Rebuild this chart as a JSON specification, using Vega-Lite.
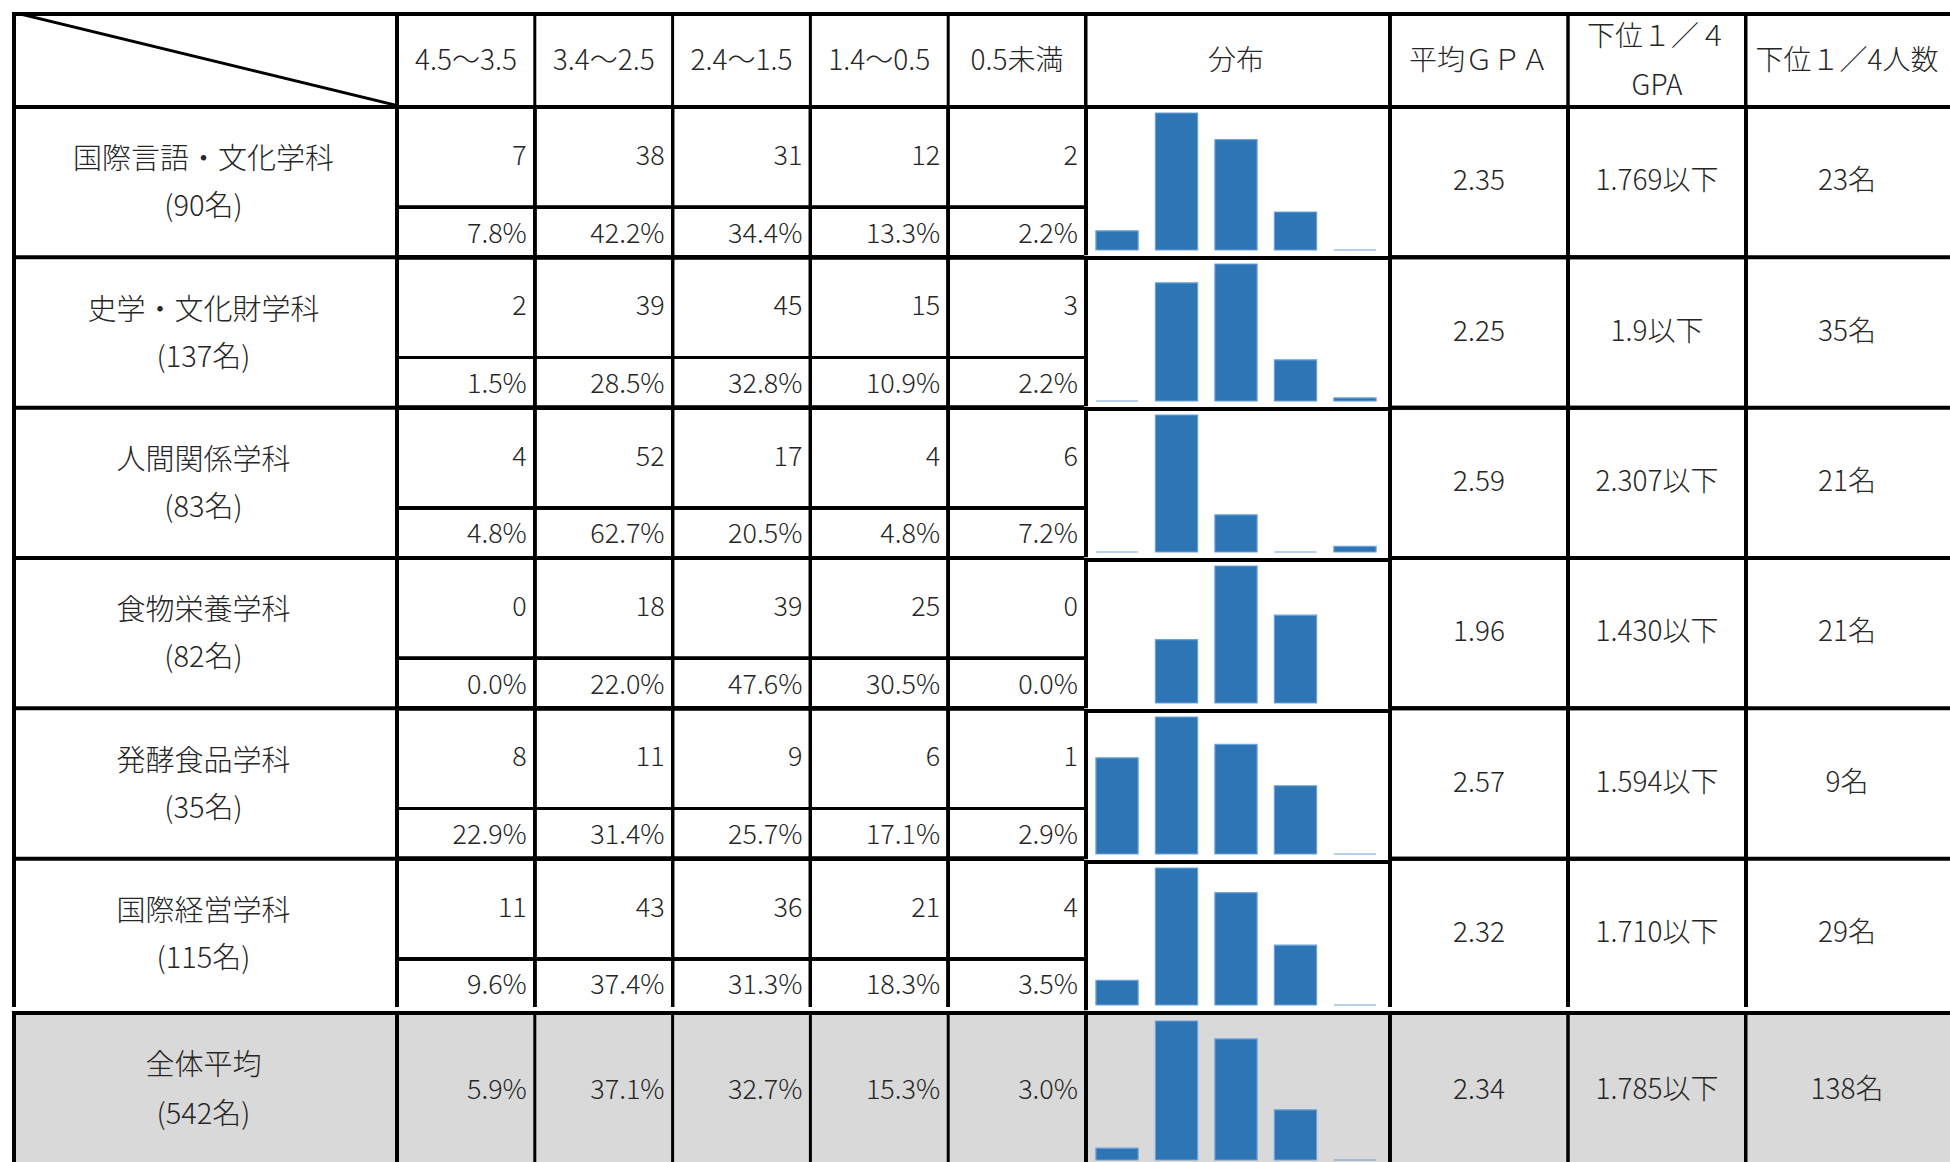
{
 "$schema": "https://vega.github.io/schema/vega-lite/v6.json",
 "background": "white",
 "padding": {"left": 12, "top": 12, "right": 0, "bottom": 0},
 "config": {
  "view": {"stroke": null},
  "axis": {"disable": true},
  "text": {"font": "Noto Sans CJK JP", "fontSize": 27, "fontWeight": 300, "fill": "#262626", "baseline": "middle"},
  "rule": {"stroke": "#000000"}
 },
 "datasets": {
  "cells": [
   {"dept": "国際言語・文化学科", "cat": "4.5～3.5", "n": 7, "p": 0.078},
   {"dept": "国際言語・文化学科", "cat": "3.4～2.5", "n": 38, "p": 0.422},
   {"dept": "国際言語・文化学科", "cat": "2.4～1.5", "n": 31, "p": 0.344},
   {"dept": "国際言語・文化学科", "cat": "1.4～0.5", "n": 12, "p": 0.133},
   {"dept": "国際言語・文化学科", "cat": "0.5未満", "n": 2, "p": 0.022},
   {"dept": "史学・文化財学科", "cat": "4.5～3.5", "n": 2, "p": 0.015},
   {"dept": "史学・文化財学科", "cat": "3.4～2.5", "n": 39, "p": 0.285},
   {"dept": "史学・文化財学科", "cat": "2.4～1.5", "n": 45, "p": 0.328},
   {"dept": "史学・文化財学科", "cat": "1.4～0.5", "n": 15, "p": 0.109},
   {"dept": "史学・文化財学科", "cat": "0.5未満", "n": 3, "p": 0.022},
   {"dept": "人間関係学科", "cat": "4.5～3.5", "n": 4, "p": 0.048},
   {"dept": "人間関係学科", "cat": "3.4～2.5", "n": 52, "p": 0.627},
   {"dept": "人間関係学科", "cat": "2.4～1.5", "n": 17, "p": 0.205},
   {"dept": "人間関係学科", "cat": "1.4～0.5", "n": 4, "p": 0.048},
   {"dept": "人間関係学科", "cat": "0.5未満", "n": 6, "p": 0.072},
   {"dept": "食物栄養学科", "cat": "4.5～3.5", "n": 0, "p": 0.0},
   {"dept": "食物栄養学科", "cat": "3.4～2.5", "n": 18, "p": 0.22},
   {"dept": "食物栄養学科", "cat": "2.4～1.5", "n": 39, "p": 0.476},
   {"dept": "食物栄養学科", "cat": "1.4～0.5", "n": 25, "p": 0.305},
   {"dept": "食物栄養学科", "cat": "0.5未満", "n": 0, "p": 0.0},
   {"dept": "発酵食品学科", "cat": "4.5～3.5", "n": 8, "p": 0.229},
   {"dept": "発酵食品学科", "cat": "3.4～2.5", "n": 11, "p": 0.314},
   {"dept": "発酵食品学科", "cat": "2.4～1.5", "n": 9, "p": 0.257},
   {"dept": "発酵食品学科", "cat": "1.4～0.5", "n": 6, "p": 0.171},
   {"dept": "発酵食品学科", "cat": "0.5未満", "n": 1, "p": 0.029},
   {"dept": "国際経営学科", "cat": "4.5～3.5", "n": 11, "p": 0.096},
   {"dept": "国際経営学科", "cat": "3.4～2.5", "n": 43, "p": 0.374},
   {"dept": "国際経営学科", "cat": "2.4～1.5", "n": 36, "p": 0.313},
   {"dept": "国際経営学科", "cat": "1.4～0.5", "n": 21, "p": 0.183},
   {"dept": "国際経営学科", "cat": "0.5未満", "n": 4, "p": 0.035},
   {"dept": "全体平均", "cat": "4.5～3.5", "p": 0.059},
   {"dept": "全体平均", "cat": "3.4～2.5", "p": 0.371},
   {"dept": "全体平均", "cat": "2.4～1.5", "p": 0.327},
   {"dept": "全体平均", "cat": "1.4～0.5", "p": 0.153},
   {"dept": "全体平均", "cat": "0.5未満", "p": 0.03}
  ],
  "summary": [
   {"dept": "国際言語・文化学科", "name": "国際言語・文化学科\n(90名)", "gpa": 2.35, "q": "1.769以下", "qn": "23名"},
   {"dept": "史学・文化財学科", "name": "史学・文化財学科\n(137名)", "gpa": 2.25, "q": "1.9以下", "qn": "35名"},
   {"dept": "人間関係学科", "name": "人間関係学科\n(83名)", "gpa": 2.59, "q": "2.307以下", "qn": "21名"},
   {"dept": "食物栄養学科", "name": "食物栄養学科\n(82名)", "gpa": 1.96, "q": "1.430以下", "qn": "21名"},
   {"dept": "発酵食品学科", "name": "発酵食品学科\n(35名)", "gpa": 2.57, "q": "1.594以下", "qn": "9名"},
   {"dept": "国際経営学科", "name": "国際経営学科\n(115名)", "gpa": 2.32, "q": "1.710以下", "qn": "29名"},
   {"dept": "全体平均", "name": "全体平均\n(542名)", "gpa": 2.34, "q": "1.785以下", "qn": "138名"}
  ]
 },
 "spacing": 0,
 "vconcat": [
  {
   "spacing": 0,
   "hconcat": [
    {
     "width": 383, "height": 93,
     "data": {"values": [{"h": "corner"}]},
     "layer": [
      {"mark": {"type": "rule", "strokeWidth": 3, "clip": true}, "encoding": {"x": {"value": 0}, "y": {"value": 0}, "x2": {"value": "width"}, "y2": {"value": "height"}}},
      {"mark": {"type": "rule", "strokeWidth": 8, "clip": true}, "encoding": {"x": {"value": 0}, "x2": {"value": "width"}, "y": {"value": 0}}},
      {"mark": {"type": "rule", "strokeWidth": 8, "clip": true}, "encoding": {"x": {"value": 0}, "y": {"value": 0}, "y2": {"value": "height"}}}
     ]
    },
    {
     "width": 689, "height": 93,
     "data": {"name": "cells"},
     "transform": [{"filter": "datum.dept === '国際言語・文化学科'"}],
     "layer": [
      {"mark": {"type": "rule", "strokeWidth": 8, "clip": true}, "encoding": {"x": {"value": 0}, "x2": {"value": "width"}, "y": {"value": 0}}},
      {"mark": {"type": "rule", "strokeWidth": 3, "clip": true}, "encoding": {"x": {"field": "cat", "type": "nominal", "sort": ["4.5～3.5", "3.4～2.5", "2.4～1.5", "1.4～0.5", "0.5未満"], "scale": {"type": "band", "range": [2, 691], "paddingInner": 0, "paddingOuter": 0}, "bandPosition": 0}, "y": {"value": 0}, "y2": {"value": "height"}}},
      {"mark": {"type": "rule", "strokeWidth": 8, "clip": true}, "encoding": {"x": {"value": 0}, "y": {"value": 0}, "y2": {"value": "height"}}},
      {"mark": {"type": "text", "dy": 3, "fontSize": 28}, "encoding": {"x": {"field": "cat", "type": "nominal", "sort": ["4.5～3.5", "3.4～2.5", "2.4～1.5", "1.4～0.5", "0.5未満"], "scale": {"type": "band", "range": [2, 691], "paddingInner": 0, "paddingOuter": 0}}, "text": {"field": "cat", "type": "nominal"}}}
     ]
    },
    {
     "width": 304, "height": 93,
     "data": {"values": [{"h": "分布"}]},
     "layer": [
      {"mark": {"type": "rule", "strokeWidth": 8, "clip": true}, "encoding": {"x": {"value": 0}, "x2": {"value": "width"}, "y": {"value": 0}}},
      {"mark": {"type": "rule", "strokeWidth": 7, "clip": true}, "encoding": {"x": {"value": 0}, "y": {"value": 0}, "y2": {"value": "height"}}},
      {"mark": {"type": "text", "dy": 3, "fontSize": 28}, "encoding": {"text": {"field": "h", "type": "nominal"}}}
     ]
    },
    {
     "width": 356, "height": 93,
     "data": {"values": [{"col": "gpa", "h": "平均ＧＰＡ"}, {"col": "q", "h": "下位１／４\nGPA"}]},
     "layer": [
      {"mark": {"type": "rule", "strokeWidth": 8, "clip": true}, "encoding": {"x": {"value": 0}, "x2": {"value": "width"}, "y": {"value": 0}}},
      {"mark": {"type": "rule", "strokeWidth": 3.5, "clip": true}, "encoding": {"x": {"field": "col", "type": "nominal", "sort": ["gpa", "q"], "scale": {"type": "band", "range": [2, 358], "paddingInner": 0, "paddingOuter": 0}, "bandPosition": 0}, "y": {"value": 0}, "y2": {"value": "height"}}},
      {"mark": {"type": "rule", "strokeWidth": 7, "clip": true}, "encoding": {"x": {"value": 0}, "y": {"value": 0}, "y2": {"value": "height"}}},
      {"mark": {"type": "text", "dy": 3, "fontSize": 28}, "encoding": {"x": {"field": "col", "type": "nominal", "sort": ["gpa", "q"], "scale": {"type": "band", "range": [2, 358], "paddingInner": 0, "paddingOuter": 0}}, "text": {"field": "h", "type": "nominal"}}, "transform": [{"filter": "datum.col === 'gpa'"}]},
      {"mark": {"type": "text", "dy": -20.5, "fontSize": 28, "lineBreak": "\n", "lineHeight": 49, "clip": true}, "encoding": {"x": {"field": "col", "type": "nominal", "sort": ["gpa", "q"], "scale": {"type": "band", "range": [2, 358], "paddingInner": 0, "paddingOuter": 0}}, "text": {"field": "h", "type": "nominal"}}, "transform": [{"filter": "datum.col === 'q'"}]}
     ]
    },
    {
     "width": 206, "height": 93,
     "data": {"values": [{"h": "下位１／4人数"}]},
     "layer": [
      {"mark": {"type": "rule", "strokeWidth": 8, "clip": true}, "encoding": {"x": {"value": 0}, "x2": {"value": "width"}, "y": {"value": 0}}},
      {"mark": {"type": "rule", "strokeWidth": 7, "clip": true}, "encoding": {"x": {"value": 0}, "y": {"value": 0}, "y2": {"value": "height"}}},
      {"mark": {"type": "text", "dy": 3, "fontSize": 28}, "encoding": {"text": {"field": "h", "type": "nominal"}}}
     ]
    }
   ]
  },
  {
   "spacing": 0,
   "hconcat": [
    {
     "width": 383, "height": 902,
     "data": {"name": "summary"},
     "transform": [{"filter": "datum.dept !== '全体平均'"}],
     "layer": [
      {"mark": {"type": "rule", "strokeWidth": 4, "clip": true}, "encoding": {"x": {"value": 0}, "x2": {"value": "width"}, "y": {"field": "dept", "type": "nominal", "sort": ["国際言語・文化学科", "史学・文化財学科", "人間関係学科", "食物栄養学科", "発酵食品学科", "国際経営学科"], "scale": {"type": "band", "range": [2, 904], "paddingInner": 0, "paddingOuter": 0}, "bandPosition": 0}}},
      {"mark": {"type": "rule", "strokeWidth": 8, "clip": true}, "encoding": {"x": {"value": 0}, "y": {"value": 0}, "y2": {"value": "height"}}},
      {"mark": {"type": "text", "dy": -22, "fontSize": 29, "lineBreak": "\n", "lineHeight": 47}, "encoding": {"y": {"field": "dept", "type": "nominal", "sort": ["国際言語・文化学科", "史学・文化財学科", "人間関係学科", "食物栄養学科", "発酵食品学科", "国際経営学科"], "scale": {"type": "band", "range": [2, 904], "paddingInner": 0, "paddingOuter": 0}}, "text": {"field": "name", "type": "nominal"}}}
     ]
    },
    {
     "width": 689, "height": 902,
     "data": {"name": "cells"},
     "transform": [{"filter": "datum.dept !== '全体平均'"}],
     "layer": [
      {"mark": {"type": "rule", "strokeWidth": 4, "clip": true}, "encoding": {"x": {"value": 0}, "x2": {"value": "width"}, "y": {"field": "dept", "type": "nominal", "sort": ["国際言語・文化学科", "史学・文化財学科", "人間関係学科", "食物栄養学科", "発酵食品学科", "国際経営学科"], "scale": {"type": "band", "range": [2, 904], "paddingInner": 0, "paddingOuter": 0}, "bandPosition": 0}}},
      {"mark": {"type": "rule", "strokeWidth": 3, "clip": true}, "encoding": {"x": {"value": 0}, "x2": {"value": "width"}, "y": {"field": "dept", "type": "nominal", "sort": ["国際言語・文化学科", "史学・文化財学科", "人間関係学科", "食物栄養学科", "発酵食品学科", "国際経営学科"], "scale": {"type": "band", "range": [2, 904], "paddingInner": 0, "paddingOuter": 0}, "bandPosition": 0.667}}},
      {"mark": {"type": "rule", "strokeWidth": 3, "clip": true}, "encoding": {"x": {"field": "cat", "type": "nominal", "sort": ["4.5～3.5", "3.4～2.5", "2.4～1.5", "1.4～0.5", "0.5未満"], "scale": {"type": "band", "range": [2, 691], "paddingInner": 0, "paddingOuter": 0}, "bandPosition": 0}, "y": {"value": 0}, "y2": {"value": "height"}}},
      {"mark": {"type": "rule", "strokeWidth": 8, "clip": true}, "encoding": {"x": {"value": 0}, "y": {"value": 0}, "y2": {"value": "height"}}},
      {"mark": {"type": "text", "align": "right", "dx": -8, "dy": 0}, "encoding": {"x": {"field": "cat", "type": "nominal", "sort": ["4.5～3.5", "3.4～2.5", "2.4～1.5", "1.4～0.5", "0.5未満"], "scale": {"type": "band", "range": [2, 691], "paddingInner": 0, "paddingOuter": 0}, "bandPosition": 1}, "y": {"field": "dept", "type": "nominal", "sort": ["国際言語・文化学科", "史学・文化財学科", "人間関係学科", "食物栄養学科", "発酵食品学科", "国際経営学科"], "scale": {"type": "band", "range": [2, 904], "paddingInner": 0, "paddingOuter": 0}, "bandPosition": 0.333}, "text": {"field": "n", "type": "quantitative"}}},
      {"mark": {"type": "text", "align": "right", "dx": -8, "dy": 0}, "encoding": {"x": {"field": "cat", "type": "nominal", "sort": ["4.5～3.5", "3.4～2.5", "2.4～1.5", "1.4～0.5", "0.5未満"], "scale": {"type": "band", "range": [2, 691], "paddingInner": 0, "paddingOuter": 0}, "bandPosition": 1}, "y": {"field": "dept", "type": "nominal", "sort": ["国際言語・文化学科", "史学・文化財学科", "人間関係学科", "食物栄養学科", "発酵食品学科", "国際経営学科"], "scale": {"type": "band", "range": [2, 904], "paddingInner": 0, "paddingOuter": 0}, "bandPosition": 0.85}, "text": {"field": "p", "type": "quantitative", "format": ".1%"}}}
     ]
    },
    {
     "data": {"name": "cells"},
     "transform": [
      {"filter": "datum.dept !== '全体平均'"},
      {"joinaggregate": [{"op": "min", "field": "p", "as": "pmin"}], "groupby": ["dept"]}
     ],
     "facet": {"row": {"field": "dept", "type": "nominal", "sort": ["国際言語・文化学科", "史学・文化財学科", "人間関係学科", "食物栄養学科", "発酵食品学科", "国際経営学科"], "header": null}},
     "spacing": 0,
     "resolve": {"scale": {"y": "independent"}},
     "spec": {
      "width": 304, "height": 150.333,
      "layer": [
       {"mark": {"type": "bar", "fill": "#2E75B6", "stroke": "#6FA3D8", "strokeWidth": 1.2},
        "encoding": {
         "x": {"field": "cat", "type": "nominal", "sort": ["4.5～3.5", "3.4～2.5", "2.4～1.5", "1.4～0.5", "0.5未満"], "scale": {"type": "band", "paddingInner": 0.29, "paddingOuter": 0.2}},
         "y": {"field": "p", "type": "quantitative", "scale": {"zero": false, "nice": false, "range": [145, 8]}},
         "y2": {"field": "pmin"},
         "strokeOpacity": {"condition": {"test": "datum.p > 0", "value": 1}, "value": 0}
        }},
       {"mark": {"type": "rule", "strokeWidth": 8, "clip": true}, "encoding": {"x": {"value": 0}, "x2": {"value": "width"}, "y": {"value": 0}}},
       {"mark": {"type": "rule", "strokeWidth": 7, "clip": true}, "encoding": {"x": {"value": 0}, "y": {"value": 0}, "y2": {"value": "height"}}}
      ]
     }
    },
    {
     "width": 356, "height": 902,
     "data": {"name": "summary"},
     "transform": [{"filter": "datum.dept !== '全体平均'"}, {"fold": ["gpa", "q"], "as": ["col", "val"]}],
     "layer": [
      {"mark": {"type": "rule", "strokeWidth": 4, "clip": true}, "encoding": {"x": {"value": 0}, "x2": {"value": "width"}, "y": {"field": "dept", "type": "nominal", "sort": ["国際言語・文化学科", "史学・文化財学科", "人間関係学科", "食物栄養学科", "発酵食品学科", "国際経営学科"], "scale": {"type": "band", "range": [2, 904], "paddingInner": 0, "paddingOuter": 0}, "bandPosition": 0}}},
      {"mark": {"type": "rule", "strokeWidth": 3.5, "clip": true}, "encoding": {"x": {"field": "col", "type": "nominal", "sort": ["gpa", "q"], "scale": {"type": "band", "range": [2, 358], "paddingInner": 0, "paddingOuter": 0}, "bandPosition": 0}, "y": {"value": 0}, "y2": {"value": "height"}}},
      {"mark": {"type": "rule", "strokeWidth": 7, "clip": true}, "encoding": {"x": {"value": 0}, "y": {"value": 0}, "y2": {"value": "height"}}},
      {"mark": {"type": "text", "fontSize": 28}, "encoding": {"x": {"field": "col", "type": "nominal", "sort": ["gpa", "q"], "scale": {"type": "band", "range": [2, 358], "paddingInner": 0, "paddingOuter": 0}}, "y": {"field": "dept", "type": "nominal", "sort": ["国際言語・文化学科", "史学・文化財学科", "人間関係学科", "食物栄養学科", "発酵食品学科", "国際経営学科"], "scale": {"type": "band", "range": [2, 904], "paddingInner": 0, "paddingOuter": 0}}, "text": {"field": "val", "type": "nominal"}}}
     ]
    },
    {
     "width": 206, "height": 902,
     "data": {"name": "summary"},
     "transform": [{"filter": "datum.dept !== '全体平均'"}],
     "layer": [
      {"mark": {"type": "rule", "strokeWidth": 4, "clip": true}, "encoding": {"x": {"value": 0}, "x2": {"value": "width"}, "y": {"field": "dept", "type": "nominal", "sort": ["国際言語・文化学科", "史学・文化財学科", "人間関係学科", "食物栄養学科", "発酵食品学科", "国際経営学科"], "scale": {"type": "band", "range": [2, 904], "paddingInner": 0, "paddingOuter": 0}, "bandPosition": 0}}},
      {"mark": {"type": "rule", "strokeWidth": 7, "clip": true}, "encoding": {"x": {"value": 0}, "y": {"value": 0}, "y2": {"value": "height"}}},
      {"mark": {"type": "text", "fontSize": 28}, "encoding": {"y": {"field": "dept", "type": "nominal", "sort": ["国際言語・文化学科", "史学・文化財学科", "人間関係学科", "食物栄養学科", "発酵食品学科", "国際経営学科"], "scale": {"type": "band", "range": [2, 904], "paddingInner": 0, "paddingOuter": 0}}, "text": {"field": "qn", "type": "nominal"}}}
     ]
    }
   ]
  },
  {
   "spacing": 0,
   "hconcat": [
    {
     "width": 383, "height": 156,
     "data": {"name": "summary"},
     "transform": [{"filter": "datum.dept === '全体平均'"}],
     "layer": [
      {"mark": {"type": "rect", "fill": "#D9D9D9"}, "encoding": {"x": {"value": 0}, "x2": {"value": "width"}, "y": {"value": 0}, "y2": {"value": "height"}}},
      {"mark": {"type": "rule", "strokeWidth": 8, "clip": true}, "encoding": {"x": {"value": 0}, "x2": {"value": "width"}, "y": {"value": 0}}},
      {"mark": {"type": "rule", "strokeWidth": 8, "clip": true}, "encoding": {"x": {"value": 0}, "y": {"value": 0}, "y2": {"value": "height"}}},
      {"mark": {"type": "text", "dy": -23, "fontSize": 29, "lineBreak": "\n", "lineHeight": 49}, "encoding": {"text": {"field": "name", "type": "nominal"}}}
     ]
    },
    {
     "width": 689, "height": 156,
     "data": {"name": "cells"},
     "transform": [{"filter": "datum.dept === '全体平均'"}],
     "layer": [
      {"mark": {"type": "rect", "fill": "#D9D9D9"}, "encoding": {"x": {"value": 0}, "x2": {"value": "width"}, "y": {"value": 0}, "y2": {"value": "height"}}},
      {"mark": {"type": "rule", "strokeWidth": 8, "clip": true}, "encoding": {"x": {"value": 0}, "x2": {"value": "width"}, "y": {"value": 0}}},
      {"mark": {"type": "rule", "strokeWidth": 3, "clip": true}, "encoding": {"x": {"field": "cat", "type": "nominal", "sort": ["4.5～3.5", "3.4～2.5", "2.4～1.5", "1.4～0.5", "0.5未満"], "scale": {"type": "band", "range": [2, 691], "paddingInner": 0, "paddingOuter": 0}, "bandPosition": 0}, "y": {"value": 0}, "y2": {"value": "height"}}},
      {"mark": {"type": "rule", "strokeWidth": 8, "clip": true}, "encoding": {"x": {"value": 0}, "y": {"value": 0}, "y2": {"value": "height"}}},
      {"mark": {"type": "text", "align": "right", "dx": -8, "dy": 2}, "encoding": {"x": {"field": "cat", "type": "nominal", "sort": ["4.5～3.5", "3.4～2.5", "2.4～1.5", "1.4～0.5", "0.5未満"], "scale": {"type": "band", "range": [2, 691], "paddingInner": 0, "paddingOuter": 0}, "bandPosition": 1}, "text": {"field": "p", "type": "quantitative", "format": ".1%"}}}
     ]
    },
    {
     "width": 304, "height": 156,
     "data": {"name": "cells"},
     "transform": [
      {"filter": "datum.dept === '全体平均'"},
      {"joinaggregate": [{"op": "min", "field": "p", "as": "pmin"}], "groupby": ["dept"]}
     ],
     "layer": [
      {"mark": {"type": "rect", "fill": "#D9D9D9"}, "encoding": {"x": {"value": 0}, "x2": {"value": "width"}, "y": {"value": 0}, "y2": {"value": "height"}}},
      {"mark": {"type": "bar", "fill": "#2E75B6", "stroke": "#6FA3D8", "strokeWidth": 1.2},
       "encoding": {
        "x": {"field": "cat", "type": "nominal", "sort": ["4.5～3.5", "3.4～2.5", "2.4～1.5", "1.4～0.5", "0.5未満"], "scale": {"type": "band", "paddingInner": 0.29, "paddingOuter": 0.2}},
        "y": {"field": "p", "type": "quantitative", "scale": {"zero": false, "nice": false, "range": [149, 10]}},
        "y2": {"field": "pmin"},
        "strokeOpacity": {"condition": {"test": "datum.p > 0", "value": 1}, "value": 0}
       }},
      {"mark": {"type": "rule", "strokeWidth": 8, "clip": true}, "encoding": {"x": {"value": 0}, "x2": {"value": "width"}, "y": {"value": 0}}},
      {"mark": {"type": "rule", "strokeWidth": 7, "clip": true}, "encoding": {"x": {"value": 0}, "y": {"value": 0}, "y2": {"value": "height"}}}
     ]
    },
    {
     "width": 356, "height": 156,
     "data": {"name": "summary"},
     "transform": [{"filter": "datum.dept === '全体平均'"}, {"fold": ["gpa", "q"], "as": ["col", "val"]}],
     "layer": [
      {"mark": {"type": "rect", "fill": "#D9D9D9"}, "encoding": {"x": {"value": 0}, "x2": {"value": "width"}, "y": {"value": 0}, "y2": {"value": "height"}}},
      {"mark": {"type": "rule", "strokeWidth": 8, "clip": true}, "encoding": {"x": {"value": 0}, "x2": {"value": "width"}, "y": {"value": 0}}},
      {"mark": {"type": "rule", "strokeWidth": 3.5, "clip": true}, "encoding": {"x": {"field": "col", "type": "nominal", "sort": ["gpa", "q"], "scale": {"type": "band", "range": [2, 358], "paddingInner": 0, "paddingOuter": 0}, "bandPosition": 0}, "y": {"value": 0}, "y2": {"value": "height"}}},
      {"mark": {"type": "rule", "strokeWidth": 7, "clip": true}, "encoding": {"x": {"value": 0}, "y": {"value": 0}, "y2": {"value": "height"}}},
      {"mark": {"type": "text", "dy": 2, "fontSize": 28}, "encoding": {"x": {"field": "col", "type": "nominal", "sort": ["gpa", "q"], "scale": {"type": "band", "range": [2, 358], "paddingInner": 0, "paddingOuter": 0}}, "text": {"field": "val", "type": "nominal"}}}
     ]
    },
    {
     "width": 206, "height": 156,
     "data": {"name": "summary"},
     "transform": [{"filter": "datum.dept === '全体平均'"}],
     "layer": [
      {"mark": {"type": "rect", "fill": "#D9D9D9"}, "encoding": {"x": {"value": 0}, "x2": {"value": "width"}, "y": {"value": 0}, "y2": {"value": "height"}}},
      {"mark": {"type": "rule", "strokeWidth": 8, "clip": true}, "encoding": {"x": {"value": 0}, "x2": {"value": "width"}, "y": {"value": 0}}},
      {"mark": {"type": "rule", "strokeWidth": 7, "clip": true}, "encoding": {"x": {"value": 0}, "y": {"value": 0}, "y2": {"value": "height"}}},
      {"mark": {"type": "text", "dy": 2, "fontSize": 28}, "encoding": {"text": {"field": "qn", "type": "nominal"}}}
     ]
    }
   ]
  }
 ]
}
